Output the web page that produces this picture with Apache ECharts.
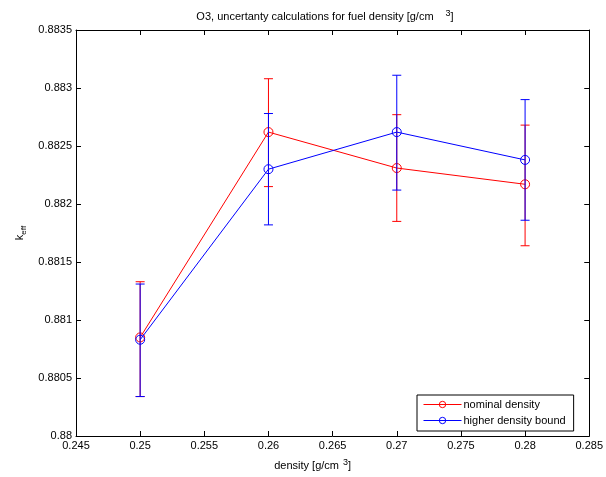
<!DOCTYPE html>
<html>
<head>
<meta charset="utf-8">
<script src="https://cdn.jsdelivr.net/npm/echarts@6/dist/echarts.min.js"></script>
<style>html,body{margin:0;padding:0;background:#fff;}#c{width:606px;height:477px;}</style>
</head>
<body>
<div id="c"></div>
<script>
var densities = [0.25, 0.26, 0.27, 0.28];
var nominal = [0.88085, 0.88262, 0.88231, 0.88217];
var nominalLow = [0.88034, 0.88215, 0.88185, 0.88164];
var nominalHigh = [0.88133, 0.88308, 0.88277, 0.88268];
var higher = [0.88083, 0.88230, 0.88262, 0.88238];
var higherLow = [0.88034, 0.88182, 0.88212, 0.88186];
var higherHigh = [0.88131, 0.88278, 0.88311, 0.88290];
var seriesNames = ['nominal density', 'higher density bound'];
var xTicks = [0.245, 0.25, 0.255, 0.26, 0.265, 0.27, 0.275, 0.28, 0.285];

var FONT = 'Liberation Sans';
function pts(ys){ return densities.map(function(x,i){ return [x, ys[i]]; }); }
function bars(lo, hi){ return densities.map(function(x,i){ return [x, lo[i], hi[i]]; }); }
function errRender(color){
  return function(params, api){
    var x = api.value(0);
    var lo = api.coord([x, api.value(1)]);
    var hi = api.coord([x, api.value(2)]);
    var w = 4.5;
    var st = {stroke: color, lineWidth: 1};
    return {type:'group', children:[
      {type:'line', shape:{x1:hi[0], y1:hi[1], x2:lo[0], y2:lo[1]}, style:st},
      {type:'line', shape:{x1:hi[0]-w, y1:hi[1], x2:hi[0]+w, y2:hi[1]}, style:st},
      {type:'line', shape:{x1:lo[0]-w, y1:lo[1], x2:lo[0]+w, y2:lo[1]}, style:st}
    ]};
  };
}
var labelStyle = {color:'#000', fontFamily:FONT, fontSize:11};
var chart = echarts.init(document.getElementById('c'), null, {renderer:'canvas'});
function lineSeries(name, ys, color, z){
  return {name:name, type:'line', data:pts(ys), symbol:'circle', symbolSize:9,
    color:color, lineStyle:{width:1, color:color},
    itemStyle:{color:'rgba(255,255,255,0)', borderColor:color, borderWidth:1},
    emphasis:{disabled:true}, z:z};
}
chart.setOption({
  animation:false,
  backgroundColor:'#fff',
  title:{
    text:'O3, uncertanty calculations for fuel density [g/cm{s|3}]',
    left:320, top:4, textAlign:'center',
    textStyle:{fontFamily:FONT, fontSize:11, fontWeight:'normal', color:'#000',
      rich:{s:{fontFamily:FONT, fontSize:9, verticalAlign:'top', padding:[0,0,6,12], color:'#000'}}}
  },
  legend:{
    orient:'vertical', left:417, top:395, width:150,
    backgroundColor:'#fff', borderColor:'#000', borderWidth:1,
    padding:[4,8,5,6], itemGap:5, itemWidth:38, itemHeight:8,
    itemStyle:{borderWidth:1, color:'rgba(255,255,255,0)'},
    lineStyle:{width:1},
    textStyle:{fontFamily:FONT, fontSize:11, color:'#000', padding:[0,0,0,-3]},
    data:seriesNames
  },
  grid:{left:76, top:30, right:15, bottom:41, containLabel:false},
  xAxis:[{
    type:'value', min:0.245, max:0.285, interval:0.005,
    axisLine:{lineStyle:{color:'#000', width:1}},
    axisTick:{inside:true, length:5, lineStyle:{color:'#000'}},
    axisLabel:Object.assign({margin:4, formatter:function(v){ return String(+v.toFixed(3)); }}, labelStyle),
    splitLine:{show:false},
    name:'density [g/cm{s|3}]', nameLocation:'middle', nameGap:22,
    nameTextStyle:{fontFamily:FONT, fontSize:11, color:'#000', padding:[0,40,0,0],
      rich:{s:{fontFamily:FONT, fontSize:9, verticalAlign:'top', padding:[0,0,6,4], color:'#000'}}}
  },{
    type:'value', position:'top', min:0.245, max:0.285, interval:0.005,
    axisLine:{show:true, lineStyle:{color:'#000', width:1}},
    axisTick:{inside:true, length:5, lineStyle:{color:'#000'}},
    axisLabel:{show:false}, splitLine:{show:false}
  }],
  yAxis:[{
    type:'value', min:0.88, max:0.8835, interval:0.0005,
    axisLine:{show:true, lineStyle:{color:'#000', width:1}},
    axisTick:{inside:true, length:5, lineStyle:{color:'#000'}},
    axisLabel:Object.assign({margin:4, formatter:function(v){ return String(+v.toFixed(4)); }}, labelStyle),
    splitLine:{show:false},
    name:'k{sub|eff}', nameLocation:'middle', nameGap:48, nameRotate:90,
    nameTextStyle:{fontFamily:FONT, fontSize:11, color:'#000',
      rich:{sub:{fontFamily:FONT, fontSize:8, verticalAlign:'bottom', padding:[6,0,0,0], color:'#000'}}}
  },{
    type:'value', position:'right', min:0.88, max:0.8835, interval:0.0005,
    axisLine:{show:true, lineStyle:{color:'#000', width:1}},
    axisTick:{inside:true, length:5, lineStyle:{color:'#000'}},
    axisLabel:{show:false}, splitLine:{show:false}
  }],
  series:[
    lineSeries(seriesNames[0], nominal, '#ff0000', 3),
    {name:seriesNames[0]+' err', type:'custom', data:bars(nominalLow, nominalHigh), renderItem:errRender('#ff0000'),
      encode:{x:0, y:[1,2]}, z:3},
    lineSeries(seriesNames[1], higher, '#0000ff', 4),
    {name:seriesNames[1]+' err', type:'custom', data:bars(higherLow, higherHigh), renderItem:errRender('#0000ff'),
      encode:{x:0, y:[1,2]}, z:4}
  ]
});
</script>
</body>
</html>
